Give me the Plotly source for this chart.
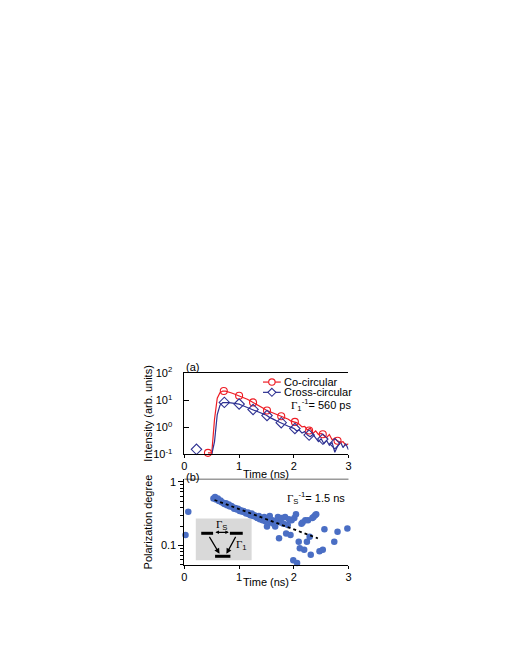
import plotly.graph_objects as go

W, H = 510, 660

# ---- (a) time-resolved PL intensity ----
t_co = [0.43, 0.50, 0.55, 0.60, 0.65, 0.70, 0.75, 0.80, 0.85, 0.90, 0.95,
        1.00, 1.05, 1.10, 1.15, 1.20, 1.25, 1.30, 1.35, 1.40, 1.45,
        1.50, 1.55, 1.60, 1.65, 1.70, 1.75, 1.80, 1.85, 1.90, 1.95,
        2.00, 2.05, 2.10, 2.15, 2.20, 2.25, 2.30, 2.35, 2.40, 2.45,
        2.50, 2.55, 2.60, 2.65, 2.70, 2.75, 2.80, 2.85, 2.90, 2.95, 3.00]
i_co = [0.115, 0.115, 2.0, 12, 19, 22, 22, 21, 19, 17.5, 16,
        14.8, 13.5, 12.2, 11, 9.6, 8.5, 7.6, 6.6, 5.8, 5.0,
        4.3, 3.9, 3.6, 3.2, 2.9, 2.6, 2.4, 2.1, 2.0, 1.7,
        1.6, 1.5, 1.3, 1.05, 1.1, 0.8, 0.95, 0.6, 0.75, 0.55,
        0.6, 0.5, 0.42, 0.55, 0.35, 0.4, 0.32, 0.28, 0.3, 0.22, 0.25]

t_cross = [0.50, 0.55, 0.60, 0.65, 0.70, 0.75, 0.80, 0.85, 0.90, 0.95,
           1.00, 1.05, 1.10, 1.15, 1.20, 1.25, 1.30, 1.35, 1.40, 1.45,
           1.50, 1.55, 1.60, 1.65, 1.70, 1.75, 1.80, 1.85, 1.90, 1.95,
           2.00, 2.05, 2.10, 2.15, 2.20, 2.25, 2.30, 2.35, 2.40, 2.45,
           2.50, 2.55, 2.60, 2.65, 2.70, 2.75, 2.80, 2.85, 2.90, 2.95, 3.00]
i_cross = [0.1, 0.3, 3.0, 6.5, 8.2, 8.4, 8.2, 8.0, 7.8, 7.5,
           7.2, 6.6, 6.0, 5.5, 5.0, 4.6, 4.2, 3.8, 3.4, 3.1,
           2.8, 2.4, 2.2, 1.9, 1.7, 1.5, 1.4, 1.25, 1.1, 1.0,
           0.92, 0.75, 0.8, 0.62, 0.7, 0.52, 0.45, 0.55, 0.4, 0.3,
           0.38, 0.25, 0.33, 0.22, 0.28, 0.12, 0.2, 0.3, 0.18, 0.25, 0.15]

t_co_mk = [0.43, 0.72, 1.00, 1.255, 1.51, 1.77, 2.02, 2.28, 2.53, 2.80]
i_co_mk = [0.115, 22, 14.8, 8.4, 4.2, 2.6, 1.6, 0.77, 0.56, 0.32]
t_cross_mk = [0.22, 0.73, 1.00, 1.255, 1.51, 1.77, 2.02, 2.28, 2.53, 2.75]
i_cross_mk = [0.155, 8.4, 7.3, 4.6, 2.75, 1.5, 0.91, 0.52, 0.37, 0.25]

# ---- (b) polarization degree ----
t_pol = [0.02, 0.07,
         0.53, 0.56, 0.58, 0.61, 0.63, 0.66, 0.68, 0.71, 0.73, 0.76,
         0.78, 0.81, 0.83, 0.86, 0.88, 0.91, 0.93, 0.96, 0.98, 1.01,
         1.03, 1.06, 1.08, 1.11, 1.13, 1.16, 1.18, 1.21, 1.23, 1.26,
         1.28, 1.31, 1.33, 1.36, 1.38, 1.41, 1.43, 1.46, 1.48, 1.51,
         1.53, 1.56, 1.58, 1.61, 1.63, 1.66, 1.68, 1.71, 1.73, 1.76,
         1.78, 1.81, 1.84, 1.86, 1.89, 1.91, 1.94, 1.96, 1.99, 2.01,
         2.04, 2.06, 2.09, 2.11, 2.14, 2.16, 2.19, 2.21, 2.24, 2.26,
         2.29, 2.31, 2.34, 2.36, 2.39, 2.41, 2.47, 2.53, 2.56, 2.74,
         2.80, 2.98]
p_pol = [0.146, 0.34,
         0.55, 0.58, 0.53, 0.55, 0.50, 0.51, 0.48, 0.47, 0.45, 0.46,
         0.43, 0.44, 0.41, 0.42, 0.40, 0.38, 0.39, 0.37, 0.38, 0.35,
         0.36, 0.34, 0.35, 0.33, 0.32, 0.33, 0.31, 0.30, 0.32, 0.29,
         0.30, 0.28, 0.27, 0.29, 0.26, 0.27, 0.25, 0.28, 0.24, 0.20,
         0.27, 0.29, 0.23, 0.25, 0.22, 0.20, 0.24, 0.28, 0.13, 0.23,
         0.27, 0.22, 0.28, 0.155, 0.21, 0.26, 0.146, 0.25, 0.059, 0.27,
         0.31, 0.053, 0.115, 0.091, 0.22, 0.23, 0.086, 0.25, 0.115, 0.25,
         0.137, 0.072, 0.27, 0.28, 0.30, 0.31, 0.081, 0.086, 0.18, 0.115,
         0.165, 0.185]

t_fit = [0.55, 2.44]
p_fit = [0.52, 0.13]

RED = "#ee1c24"
BLUE = "#2e3192"
DOT = "#4a6ec4"
FONT = "Liberation Sans, Arial, sans-serif"

# page body has an 8px margin; positions below are screen pixels
OFF = 8


def px(x):
    return (x - OFF) / W


def py(y):
    return 1 - (y - OFF) / H


fig = go.Figure()

fig.add_trace(go.Scatter(x=t_co, y=i_co, mode="lines", xaxis="x", yaxis="y",
                         line=dict(color=RED, width=1.2), showlegend=False))
fig.add_trace(go.Scatter(x=t_cross, y=i_cross, mode="lines", xaxis="x", yaxis="y",
                         line=dict(color=BLUE, width=1.2), showlegend=False))
fig.add_trace(go.Scatter(x=t_co_mk, y=i_co_mk, mode="markers", xaxis="x", yaxis="y",
                         cliponaxis=False, showlegend=False,
                         marker=dict(symbol="circle-open", size=7, color=RED,
                                     line=dict(width=1.1, color=RED))))
fig.add_trace(go.Scatter(x=t_cross_mk, y=i_cross_mk, mode="markers", xaxis="x", yaxis="y",
                         cliponaxis=False, showlegend=False,
                         marker=dict(symbol="diamond-open", size=8, color=BLUE,
                                     line=dict(width=1.1, color=BLUE))))

fig.add_trace(go.Scatter(x=t_pol, y=p_pol, mode="markers", xaxis="x2", yaxis="y2",
                         cliponaxis=False, showlegend=False,
                         marker=dict(size=6.5, color=DOT)))
fig.add_trace(go.Scatter(x=t_fit, y=p_fit, mode="lines", xaxis="x2", yaxis="y2",
                         showlegend=False,
                         line=dict(color="black", width=1.8, dash="3px,3px")))

axis_common = dict(showgrid=False, zeroline=False, showline=True, linecolor="black",
                   linewidth=1, tickcolor="black", tickwidth=1,
                   tickfont=dict(family=FONT, size=11, color="black"))

fig.update_layout(
    width=W, height=H,
    margin=dict(l=0, r=0, t=0, b=0),
    paper_bgcolor="white", plot_bgcolor="white",
    font=dict(family=FONT, size=11, color="black"),
    showlegend=False,
    xaxis=dict(domain=[px(183.5), px(349.5)], range=[0, 3], anchor="y",
               ticks="outside", ticklen=3, ticklabelstandoff=-2,
               tickvals=[0, 1, 2, 3], mirror=True, **axis_common),
    yaxis=dict(domain=[py(456), py(373)], type="log", range=[-1, 2], anchor="x",
               ticks="inside", ticklen=5, ticklabelstandoff=9,
               tickvals=[0.1, 1, 10, 100],
               ticktext=["10<sup>-1</sup>", "10<sup>0</sup>", "10<sup>1</sup>", "10<sup>2</sup>"],
               **axis_common),
    xaxis2=dict(domain=[px(183.5), px(349.5)], range=[0, 3], anchor="y2",
                ticks="outside", ticklen=3, ticklabelstandoff=-1,
                tickvals=[0, 1, 2, 3], **axis_common),
    yaxis2=dict(domain=[py(568.6), py(481.3)], type="log",
                range=[-1.30103, 0.041393], anchor="x2",
                ticks="outside", ticklen=5, tickvals=[0.1, 1], ticktext=["0.1", "1"],
                minor=dict(ticks="outside", ticklen=3, tickcolor="black",
                           tickvals=[0.05, 0.06, 0.07, 0.08, 0.09, 0.2, 0.3, 0.4,
                                     0.5, 0.6, 0.7, 0.8, 0.9]),
                **axis_common),
)

shapes = []
# gray top frame of panel (b)
shapes.append(dict(type="line", xref="x2 domain", yref="y2 domain", x0=0, x1=1, y0=1, y1=1,
                   line=dict(color="#9a9a9a", width=1.5)))

# legend samples for panel (a)
for yy, col in [(382, RED), (392.5, BLUE)]:
    shapes.append(dict(type="line", xref="paper", yref="paper",
                       x0=px(263), x1=px(281), y0=py(yy), y1=py(yy),
                       line=dict(color=col, width=1.2)))
shapes.append(dict(type="circle", xref="paper", yref="paper", xsizemode="pixel",
                   ysizemode="pixel", xanchor=px(272), yanchor=py(382),
                   x0=-3.2, x1=3.2, y0=-3.2, y1=3.2,
                   fillcolor="white", line=dict(color=RED, width=1.1)))
shapes.append(dict(type="path", xref="paper", yref="paper", xsizemode="pixel",
                   ysizemode="pixel", xanchor=px(272), yanchor=py(392.5),
                   path="M 0 4 L 4 0 L 0 -4 L -4 0 Z",
                   fillcolor="white", line=dict(color=BLUE, width=1.1)))

# inset level scheme in panel (b)
shapes.append(dict(type="rect", xref="paper", yref="paper", layer="below",
                   x0=px(195), x1=px(251.5), y0=py(564), y1=py(521.5),
                   fillcolor="#d9d9d9", line=dict(width=0)))
for x0, x1, yy in [(200.5, 212.5, 536.5), (229.5, 242.5, 536.5), (214.5, 230, 560)]:
    shapes.append(dict(type="line", xref="paper", yref="paper",
                       x0=px(x0), x1=px(x1), y0=py(yy), y1=py(yy),
                       line=dict(color="black", width=3)))
fig.update_layout(shapes=shapes)

ann = []


def text(x, y, s, size=11, xanchor="center", angle=0):
    ann.append(dict(x=px(x), y=py(y), xref="paper", yref="paper", text=s,
                    showarrow=False, xanchor=xanchor, yanchor="middle",
                    textangle=angle, font=dict(family=FONT, size=size, color="black")))


text(183, 367, "(a)", xanchor="left")
text(183, 479, "(b)", xanchor="left")
text(266, 476, "Time (ns)")
text(266, 586, "Time (ns)")
text(147, 414, "Intensity (arb. units)", angle=-90)
text(147, 525, "Polarization degree", angle=-90)
text(282, 382, "Co-circular", xanchor="left")
text(282, 392.5, "Cross-circular", xanchor="left")
G = '<span style="font-family:Liberation Serif, Times New Roman, serif">Γ</span>'
text(289, 405, G + "<sub>1</sub><sup>-1</sup>= 560 ps", xanchor="left")
text(285, 500, G + "<sub>S</sub><sup>-1</sup>= 1.5 ns", xanchor="left")
text(222, 528, G + "<sub>S</sub>")
text(241, 548, G + "<sub>1</sub>")

# inset arrows
arrows = [
    (219, 557.5, 208, 539, "end"),
    (226, 557.5, 236, 539, "end"),
    (228.5, 535.5, 213.5, 535.5, "end+start"),
]
for hx, hy, tx, ty, side in arrows:
    ann.append(dict(x=px(hx), y=py(hy), xref="paper", yref="paper",
                    ax=tx - hx, ay=ty - hy, text="", showarrow=True,
                    arrowhead=2, arrowside=side, arrowsize=0.9 if side == "end" else 0.6,
                    arrowwidth=1.2, arrowcolor="black", startarrowhead=2,
                    startarrowsize=0.6))
fig.update_layout(annotations=ann)

fig.write_html("out.html")
